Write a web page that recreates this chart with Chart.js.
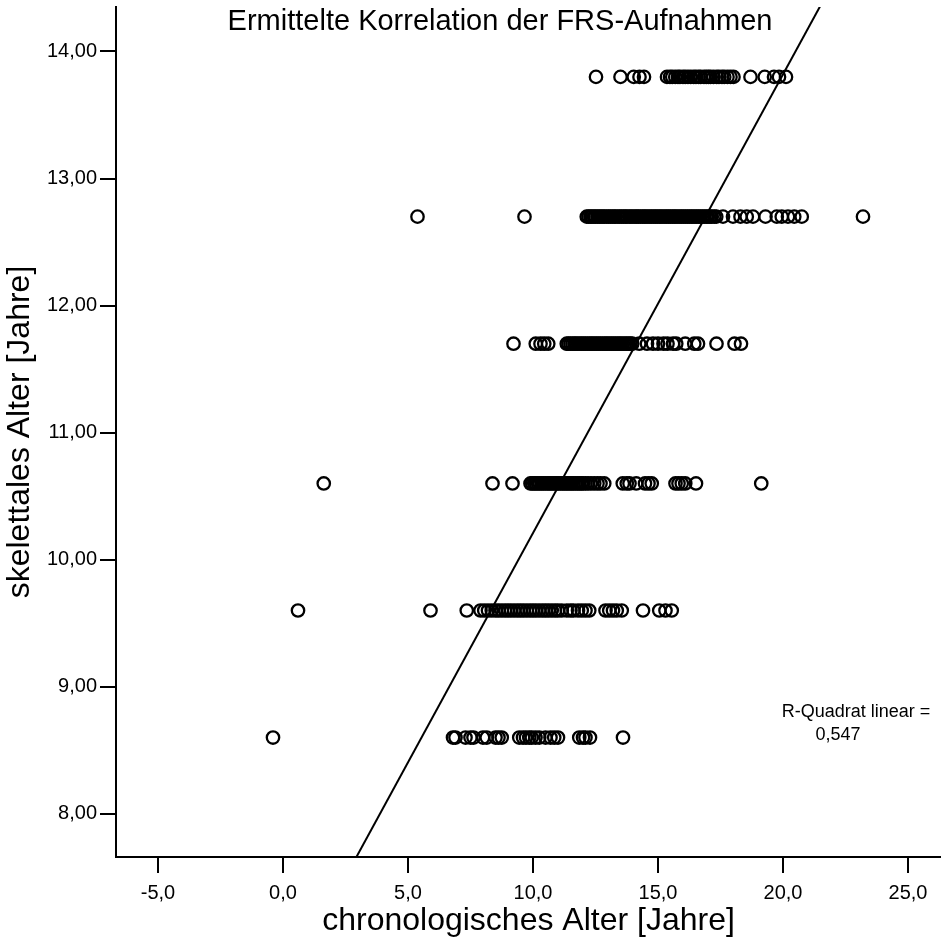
<!DOCTYPE html>
<html>
<head>
<meta charset="utf-8">
<script src="https://cdn.jsdelivr.net/npm/chart.js@4.4.1/dist/chart.umd.min.js"></script>
<style>
  html, body { margin: 0; padding: 0; background: #fff; }
  #wrap { width: 941px; height: 944px; }
</style>
</head>
<body>
<div id="wrap"><canvas id="chart" width="941" height="944"></canvas></div>
<script>
// Stufen des skelettalen Alters (y)
const skeletalLevels = [13.8, 12.7, 11.7, 10.6, 9.6, 8.6];

// chronologisches Alter (x) je Stufe
const chrono138 = [12.52, 13.5, 14.03, 14.26, 14.44, 15.36, 15.48, 15.57, 15.69, 15.8, 15.88, 16.0, 16.09, 16.2, 16.31,
  16.43, 16.52, 16.63, 16.71, 16.84, 16.93, 17.02, 17.1, 17.22, 17.35, 17.44, 17.56, 17.65, 17.78, 17.9, 18.02,
  18.7, 19.27, 19.64, 19.84, 20.12];
const chrono127 = [5.38, 9.66, 12.15, 12.22, 12.3, 12.36, 12.44, 12.5, 12.58, 12.65, 12.72, 12.8, 12.86, 12.95, 13.02,
  13.1, 13.17, 13.25, 13.31, 13.4, 13.47, 13.55, 13.62, 13.7, 13.76, 13.85, 13.92, 14.0, 14.08, 14.15, 14.22, 14.3,
  14.38, 14.45, 14.52, 14.6, 14.68, 14.75, 14.83, 14.9, 14.97, 15.05, 15.12, 15.2, 15.28, 15.35, 15.43, 15.5, 15.58,
  15.65, 15.72, 15.8, 15.88, 15.95, 16.03, 16.1, 16.18, 16.25, 16.33, 16.4, 16.48, 16.55, 16.63, 16.7, 16.78, 16.85,
  16.93, 17.0, 17.08, 17.15, 17.25, 17.33, 17.6, 18.0, 18.3, 18.55, 18.8, 19.3, 19.75, 19.95, 20.2, 20.45, 20.75, 23.2];
const chrono117 = [9.22, 10.11, 10.3, 10.45, 10.61, 11.35, 11.42, 11.5, 11.58, 11.66, 11.72, 11.8, 11.88, 11.95, 12.03,
  12.1, 12.18, 12.26, 12.33, 12.4, 12.48, 12.55, 12.63, 12.7, 12.78, 12.86, 12.93, 13.0, 13.08, 13.15, 13.23, 13.3,
  13.38, 13.45, 13.52, 13.6, 13.68, 13.75, 13.83, 13.9, 13.97, 14.25, 14.56, 14.8, 15.0, 15.22, 15.38, 15.6, 15.73,
  16.09, 16.45, 16.6, 17.34, 18.06, 18.32];
const chrono106 = [1.63, 8.38, 9.18, 9.9, 9.97, 10.05, 10.12, 10.2, 10.27, 10.35, 10.42, 10.5, 10.58, 10.65, 10.72,
  10.8, 10.88, 10.95, 11.02, 11.1, 11.18, 11.25, 11.33, 11.4, 11.48, 11.55, 11.62, 11.7, 11.78, 11.85, 11.93, 12.0,
  12.1, 12.2, 12.32, 12.45, 12.58, 12.7, 12.85, 13.59, 13.75, 13.86, 14.13, 14.48, 14.62, 14.75, 15.7, 15.82, 15.95,
  16.09, 16.52, 19.13];
const chrono96 = [0.6, 5.9, 7.35, 7.9, 8.05, 8.2, 8.35, 8.5, 8.62, 8.75, 8.88, 9.0, 9.12, 9.25, 9.38, 9.5, 9.62, 9.75,
  9.88, 10.0, 10.12, 10.25, 10.38, 10.5, 10.62, 10.75, 10.88, 11.0, 11.15, 11.35, 11.5, 11.62, 11.8, 11.95, 12.1,
  12.25, 12.9, 13.05, 13.2, 13.35, 13.55, 14.4, 15.05, 15.3, 15.55];
const chrono86 = [-0.4, 6.8, 6.9, 7.3, 7.5, 7.62, 8.0, 8.15, 8.5, 8.62, 8.75, 9.45, 9.6, 9.72, 9.85, 9.95, 10.1, 10.25,
  10.5, 10.7, 10.85, 11.0, 11.85, 12.0, 12.1, 12.28, 13.6];
const chronoRows = [chrono138, chrono127, chrono117, chrono106, chrono96, chrono86];

// lineare Anpassung
const fitIntercept = 6.60;
const fitSlope = 0.361;
const rSquared = '0,547';

// Achsen
const xTicks = [-5, 0, 5, 10, 15, 20, 25];
const yTicks = [8, 9, 10, 11, 12, 13, 14];
const xRange = [-6.68, 26.32];
const yRange = [7.66, 14.35];

const FONT = '"Liberation Sans", Arial, sans-serif';

const points = [];
skeletalLevels.forEach((lvl, i) => {
  chronoRows[i].forEach(x => points.push({ x: x, y: lvl }));
});

const fitLine = xRange.map(x => ({ x: x, y: fitIntercept + fitSlope * x }));

const textPlugin = {
  id: 'texte',
  afterDraw(chart) {
    const ctx = chart.ctx;
    ctx.save();
    ctx.fillStyle = '#000';
    ctx.textAlign = 'center';
    ctx.textBaseline = 'middle';
    ctx.font = '29px ' + FONT;
    ctx.fillText('Ermittelte Korrelation der FRS-Aufnahmen', 500, 22);
    ctx.font = '18px ' + FONT;
    ctx.fillText('R-Quadrat linear =', 856, 712);
    ctx.fillText(rSquared, 838, 735);
    ctx.restore();
  }
};

// keine Zusatzränder durch Beschriftungen
function noPad(s) {
  s.paddingTop = 0;
  s.paddingBottom = 0;
  s.paddingLeft = 0;
  s.paddingRight = 0;
}

new Chart(document.getElementById('chart'), {
  type: 'scatter',
  data: {
    datasets: [
      {
        type: 'line',
        data: fitLine,
        borderColor: '#000',
        borderWidth: 2,
        pointRadius: 0,
        showLine: true,
        clip: 0
      },
      {
        data: points,
        pointStyle: 'circle',
        pointRadius: 6.2,
        pointBorderWidth: 2.3,
        pointBorderColor: '#000',
        pointBackgroundColor: 'rgba(0,0,0,0)'
      }
    ]
  },
  options: {
    responsive: false,
    animation: false,
    layout: { autoPadding: false, padding: { top: 7, right: 0, bottom: 0, left: 0 } },
    plugins: { legend: { display: false }, tooltip: { enabled: false }, title: { display: false } },
    scales: {
      x: {
        type: 'linear',
        min: xRange[0],
        max: xRange[1],
        afterBuildTicks: s => { s.ticks = xTicks.map(v => ({ value: v })); },
        afterFit: s => { s.height = 87; noPad(s); },
        grid: { drawOnChartArea: false, drawTicks: true, tickLength: 16, color: '#000', lineWidth: 2 },
        border: { display: true, color: '#000', width: 2 },
        ticks: {
          color: '#000',
          padding: 8,
          maxRotation: 0,
          font: { family: FONT, size: 20 },
          callback: v => v.toFixed(1).replace('.', ',')
        },
        title: {
          display: true,
          text: 'chronologisches Alter [Jahre]',
          color: '#000',
          font: { family: FONT, size: 32 },
          padding: { top: 0, bottom: 4 }
        }
      },
      y: {
        type: 'linear',
        min: yRange[0],
        max: yRange[1],
        afterBuildTicks: s => { s.ticks = yTicks.map(v => ({ value: v })); },
        afterFit: s => { s.width = 116; noPad(s); },
        grid: { drawOnChartArea: false, drawTicks: true, tickLength: 16, color: '#000', lineWidth: 2 },
        border: { display: true, color: '#000', width: 2 },
        ticks: {
          color: '#000',
          padding: 3,
          font: { family: FONT, size: 20 },
          callback: v => v.toFixed(2).replace('.', ',')
        },
        title: {
          display: true,
          text: 'skelettales Alter [Jahre]',
          color: '#000',
          font: { family: FONT, size: 32 },
          padding: { top: 1, bottom: 0 }
        }
      }
    }
  },
  plugins: [textPlugin]
});
</script>
</body>
</html>
